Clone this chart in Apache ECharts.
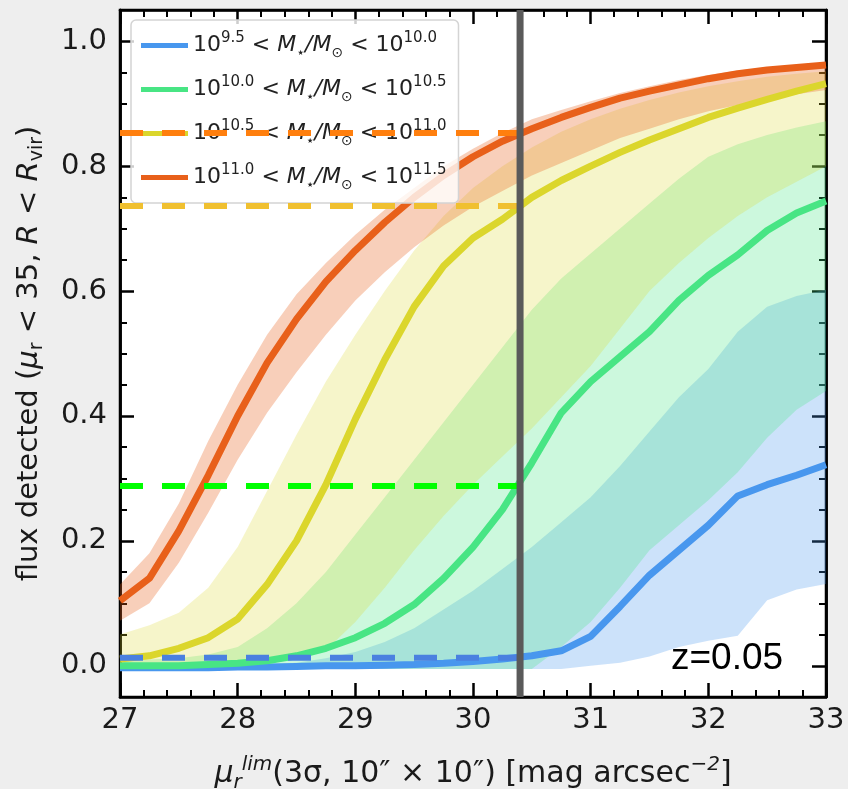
<!DOCTYPE html>
<html>
<head>
<meta charset="utf-8">
<script src="https://cdn.jsdelivr.net/npm/echarts@6/dist/echarts.min.js"></script>
<style>
html, body { margin: 0; padding: 0; background: #eeeeee; }
#main { width: 848px; height: 789px; }
</style>
</head>
<body>
<div id="main"></div>
<script>
// surface brightness limit grid
var xs = [27, 27.25, 27.5, 27.75, 28, 28.25, 28.5, 28.75, 29, 29.25, 29.5, 29.75, 30, 30.25, 30.5, 30.75, 31, 31.25, 31.5, 31.75, 32, 32.25, 32.5, 32.75, 33];

// 10^9.5 - 10^10.0
var blueMid = [-0.003, -0.003, -0.003, -0.003, -0.002, -0.002, -0.001, 0, 0, 0.001, 0.002, 0.004, 0.007, 0.011, 0.016, 0.024, 0.047, 0.095, 0.145, 0.185, 0.225, 0.272, 0.29, 0.305, 0.322];
var blueLo = [-0.005, -0.005, -0.005, -0.005, -0.005, -0.005, -0.005, -0.005, -0.005, -0.005, -0.005, -0.005, -0.005, -0.005, -0.005, -0.005, 0, 0.005, 0.015, 0.03, 0.04, 0.048, 0.105, 0.122, 0.131];
var blueHi = [0, 0, 0, 0, 0, 0.002, 0.005, 0.012, 0.022, 0.038, 0.06, 0.09, 0.12, 0.155, 0.19, 0.23, 0.27, 0.32, 0.375, 0.43, 0.475, 0.535, 0.575, 0.592, 0.602];

// 10^10.0 - 10^10.5
var greenMid = [0, 0, 0, 0.002, 0.004, 0.008, 0.016, 0.028, 0.045, 0.068, 0.098, 0.14, 0.19, 0.25, 0.325, 0.405, 0.455, 0.495, 0.535, 0.585, 0.625, 0.658, 0.697, 0.725, 0.744];
var greenLo = [-0.005, -0.005, -0.005, -0.005, -0.005, -0.005, -0.005, -0.005, -0.005, -0.005, -0.005, -0.005, -0.005, -0.005, -0.005, 0.03, 0.07, 0.125, 0.185, 0.225, 0.265, 0.31, 0.365, 0.41, 0.44];
var greenHi = [0.01, 0.01, 0.012, 0.018, 0.03, 0.06, 0.1, 0.15, 0.21, 0.27, 0.33, 0.39, 0.45, 0.51, 0.57, 0.62, 0.66, 0.7, 0.74, 0.78, 0.815, 0.835, 0.85, 0.862, 0.872];

// 10^10.5 - 10^11.0
var yellowMid = [0.011, 0.016, 0.028, 0.045, 0.075, 0.13, 0.2, 0.29, 0.395, 0.49, 0.575, 0.64, 0.685, 0.715, 0.75, 0.777, 0.8, 0.822, 0.842, 0.86, 0.878, 0.893, 0.907, 0.92, 0.932];
var yellowLo = [0, 0, 0, 0, 0.002, 0.005, 0.01, 0.025, 0.07, 0.125, 0.185, 0.24, 0.29, 0.335, 0.38, 0.43, 0.48, 0.54, 0.6, 0.645, 0.685, 0.72, 0.75, 0.775, 0.8];
var yellowHi = [0.05, 0.065, 0.085, 0.125, 0.19, 0.28, 0.37, 0.455, 0.53, 0.6, 0.665, 0.72, 0.765, 0.8, 0.83, 0.855, 0.875, 0.892, 0.906, 0.918, 0.928, 0.936, 0.943, 0.948, 0.952];

// 10^11.0 - 10^11.5
var orangeMid = [0.104, 0.14, 0.216, 0.305, 0.4, 0.485, 0.555, 0.615, 0.665, 0.71, 0.75, 0.785, 0.815, 0.84, 0.86, 0.878, 0.894, 0.909, 0.92, 0.93, 0.94, 0.948, 0.954, 0.958, 0.962];
var orangeLo = [0.072, 0.1, 0.165, 0.245, 0.33, 0.405, 0.47, 0.53, 0.585, 0.63, 0.67, 0.705, 0.735, 0.76, 0.785, 0.805, 0.825, 0.845, 0.86, 0.875, 0.888, 0.898, 0.907, 0.915, 0.922];
var orangeHi = [0.13, 0.18, 0.26, 0.36, 0.45, 0.53, 0.595, 0.645, 0.69, 0.73, 0.765, 0.8, 0.828, 0.853, 0.875, 0.89, 0.904, 0.917, 0.928, 0.938, 0.946, 0.953, 0.958, 0.962, 0.966];

// vertical limit and the detected fractions read at it
var refX = 30.4;
var refLevels = [0.853, 0.736, 0.288, 0.013];
var refColors = ['#ff7f0e', '#f0c030', '#00ff00', '#4a80e0'];

var yMajor = [0, 0.2, 0.4, 0.6, 0.8, 1.0];
var yMinor = [0.05, 0.1, 0.15, 0.25, 0.3, 0.35, 0.45, 0.5, 0.55, 0.65, 0.7, 0.75, 0.85, 0.9, 0.95];

var bins = [
    {name: 'b95', label: '10{sup|9.5} < {it|M}{sub|⋆}{it|/M}{sub|⊙} < 10{sup|10.0}', mid: blueMid, lo: blueLo, hi: blueHi, color: '#4897ee', band: 0.28},
    {name: 'b100', label: '10{sup|10.0} < {it|M}{sub|⋆}{it|/M}{sub|⊙} < 10{sup|10.5}', mid: greenMid, lo: greenLo, hi: greenHi, color: '#48e584', band: 0.28},
    {name: 'b105', label: '10{sup|10.5} < {it|M}{sub|⋆}{it|/M}{sub|⊙} < 10{sup|11.0}', mid: yellowMid, lo: yellowLo, hi: yellowHi, color: '#dbd62c', band: 0.25},
    {name: 'b110', label: '10{sup|11.0} < {it|M}{sub|⋆}{it|/M}{sub|⊙} < 10{sup|11.5}', mid: orangeMid, lo: orangeLo, hi: orangeHi, color: '#e8601a', band: 0.3}
];

function pairs(x, y) {
    var out = [];
    for (var i = 0; i < x.length; i++) out.push([x[i], y[i]]);
    return out;
}

// one polygon per band, between lo and hi
function bandRenderer(b) {
    return function (params, api) {
        if (params.dataIndex !== 0) return null;
        var pts = [];
        for (var i = 0; i < xs.length; i++) pts.push(api.coord([xs[i], b.hi[i]]));
        for (var j = xs.length - 1; j >= 0; j--) pts.push(api.coord([xs[j], b.lo[j]]));
        return {
            type: 'polygon',
            shape: {points: pts},
            style: {fill: b.color, opacity: b.band}
        };
    };
}

var series = [];
bins.forEach(function (b) {
    series.push({
        type: 'custom', renderItem: bandRenderer(b), clip: true, silent: true,
        data: pairs(xs, b.mid), encode: {x: 0, y: 1}, z: 1
    });
});
bins.forEach(function (b) {
    series.push({
        name: b.name, type: 'line', data: pairs(xs, b.mid), showSymbol: false,
        color: b.color, itemStyle: {color: b.color},
        lineStyle: {color: b.color, width: 7}, z: 3
    });
});
refLevels.forEach(function (v, i) {
    series.push({
        type: 'line', data: [[27, v], [refX, v]], showSymbol: false, silent: true,
        lineStyle: {color: refColors[i], width: 6, type: [23, 19]}, z: 8
    });
});
series.push({
    type: 'line', data: [[refX, -0.05], [refX, 1.05]], showSymbol: false, silent: true,
    lineStyle: {color: '#5a5a5a', width: 7}, z: 9
});

var labelNames = {};
bins.forEach(function (b) { labelNames[b.name] = b.label; });

var font = 'DejaVu Sans';
function xAxisCfg(pos, show) {
    return {
        type: 'value', position: pos, min: 27, max: 33, interval: 1,
        axisLine: {show: true, onZero: false, lineStyle: {color: '#000', width: 2.5}},
        axisTick: {show: true, inside: true, length: 14, lineStyle: {color: '#000', width: 2.5}},
        minorTick: {show: true, splitNumber: 5, length: 7, lineStyle: {color: '#000', width: 2}},
        splitLine: {show: false},
        axisLabel: {show: show, fontFamily: font, fontSize: 29, color: '#1a1a1a', margin: 9}
    };
}
function yAxisCfg(pos, ticks, len, show) {
    return {
        type: 'value', position: pos, min: -0.05, max: 1.05,
        axisLine: {show: true, onZero: false, lineStyle: {color: '#000', width: 2.5}},
        axisTick: {show: true, inside: true, length: len, customValues: ticks, lineStyle: {color: '#000', width: len > 10 ? 2.5 : 2}},
        splitLine: {show: false},
        axisLabel: {show: show, customValues: ticks, fontFamily: font, fontSize: 29, color: '#1a1a1a', margin: 13,
            formatter: function (v) { return v.toFixed(1); }}
    };
}

var chart = echarts.init(document.getElementById('main'), null, {renderer: 'canvas'});
var yMain = yAxisCfg('left', yMajor, 14, true);
yMain.name = 'flux detected ({it|μ}{sub|r} < 35, {it|R} < {it|R}{sub|vir})';
yMain.nameLocation = 'middle';
yMain.nameRotate = 90;
yMain.nameGap = 73;
yMain.nameTextStyle = {fontFamily: font, fontSize: 29, color: '#1a1a1a', lineHeight: 36,
    rich: {it: {fontFamily: font, fontStyle: 'italic', fontSize: 29},
        sub: {fontFamily: font, fontSize: 19, verticalAlign: 'bottom', lineHeight: 21}}};
var xMain = xAxisCfg('bottom', true);
xMain.name = '{it|μ}{sub|r}{sup|lim}(3σ, 10″ × 10″) [mag arcsec{sup|−2}]';
xMain.nameLocation = 'middle';
xMain.nameGap = 58;
xMain.nameTextStyle = {fontFamily: font, fontSize: 30, color: '#1a1a1a', lineHeight: 38,
    rich: {it: {fontFamily: font, fontStyle: 'italic', fontSize: 30},
        sub: {fontFamily: font, fontStyle: 'italic', fontSize: 20, verticalAlign: 'bottom', lineHeight: 22},
        sup: {fontFamily: font, fontStyle: 'italic', fontSize: 20, verticalAlign: 'top', lineHeight: 22}}};

var option = {
    backgroundColor: '#eeeeee',
    animation: false,
    grid: {left: 120, right: 22, top: 10, bottom: 92, outerBoundsMode: 'none', containLabel: false,
        show: true, backgroundColor: '#ffffff', borderColor: '#000', borderWidth: 2.5},
    xAxis: [xMain, xAxisCfg('top', false)],
    yAxis: [yMain, yAxisCfg('left', yMinor, 7, false), yAxisCfg('right', yMajor, 14, false), yAxisCfg('right', yMinor, 7, false)],
    legend: {
        data: bins.map(function (b) { return b.name; }),
        orient: 'vertical', left: 131, top: 20,
        icon: 'rect', itemWidth: 47, itemHeight: 5, itemGap: 15,
        padding: [11, 12, 11, 10],
        backgroundColor: 'rgba(255,255,255,0.8)', borderColor: '#d4d4d4', borderWidth: 1.5, borderRadius: 5,
        formatter: function (name) { return labelNames[name]; },
        textStyle: {fontFamily: font, fontSize: 22, color: '#222', lineHeight: 29,
            rich: {
                sup: {fontFamily: font, fontSize: 15, verticalAlign: 'top', lineHeight: 16, color: '#222'},
                sub: {fontFamily: font, fontSize: 14, verticalAlign: 'bottom', lineHeight: 15, color: '#222'},
                it: {fontFamily: font, fontSize: 22, fontStyle: 'italic', color: '#222'}
            }}
    },
    graphic: [{
        type: 'text', left: 671, top: 640, z: 20,
        style: {text: 'z=0.05', font: '37px "Liberation Sans"', fill: '#000'}
    }],
    series: series
};
chart.setOption(option);
</script>
</body>
</html>
